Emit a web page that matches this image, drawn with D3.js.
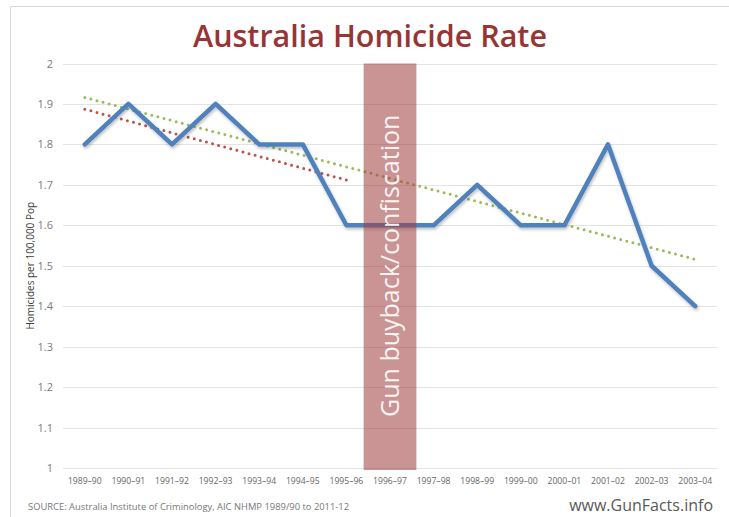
<!DOCTYPE html>
<html><head><meta charset="utf-8">
<script src="https://cdn.jsdelivr.net/npm/d3@7"></script>
<style>body{margin:0;background:#fff}svg{display:block}</style>
</head><body><div id="chart"></div>
<script>
const categories = ["1989–90","1990–91","1991–92","1992–93","1993–94","1994–95","1995–96","1996–97","1997–98","1998–99","1999–00","2000–01","2001–02","2002–03","2003–04"];
const rates = [1.8,1.9,1.8,1.9,1.8,1.8,1.6,1.6,1.6,1.7,1.6,1.6,1.8,1.5,1.4];
const trendAllCats = ["1989–90","2003–04"];
const trendAllVals = [1.916,1.516];
const trendPreCats = ["1989–90","1995–96"];
const trendPreVals = [1.887,1.712];
const yTicks = [1,1.1,1.2,1.3,1.4,1.5,1.6,1.7,1.8,1.9,2];
const bandCategory = "1996–97";
const bandLabel = "Gun buyback/confiscation";
const title = "Australia Homicide Rate";
const yTitle = "Homicides per 100,000 Pop";
const source = "SOURCE: Australia Institute of Criminology, AIC NHMP 1989/90 to 2011-12";
const watermark = "www.GunFacts.info";

const W = 729, H = 517;
const svg = d3.select("#chart").append("svg").attr("width", W).attr("height", H);
const font = "'Open Sans', 'Liberation Sans', sans-serif";

// frame
svg.append("path").attr("d", `M10.5,${H} V6.5 H${W}`).attr("fill","none").attr("stroke","#d9d9d9").attr("stroke-width",1);

const x = d3.scaleBand().domain(categories).range([63, 717]);
const y = d3.scaleLinear().domain([1, 2]).range([468, 63.5]);
const cx = c => x(c) + x.bandwidth() / 2;

// gridlines
svg.append("g").selectAll("line").data(yTicks).join("line")
  .attr("x1", 63).attr("x2", 717)
  .attr("y1", d => Math.round(y(d)) + 0.5).attr("y2", d => Math.round(y(d)) + 0.5)
  .attr("stroke", "#e3e3e3").attr("stroke-width", 1);

// y axis labels
const yAxis = d3.axisLeft(y).tickValues(yTicks).tickSize(0).tickPadding(0).tickFormat(d3.format("~g"));
const gy = svg.append("g").attr("transform", "translate(53,0)").call(yAxis);
gy.select(".domain").remove();
gy.selectAll("text").attr("font-family", font).attr("font-size", 11).attr("fill", "#7a7a7a");

// x axis labels
const xAxis = d3.axisBottom(x).tickSize(0).tickPadding(0);
const gx = svg.append("g").attr("transform", "translate(0,478)").call(xAxis);
gx.select(".domain").remove();
gx.selectAll("text").attr("font-family", font).attr("font-size", 8.6).attr("fill", "#666").attr("dy", "0.71em");

// trend lines
const lineGen = d3.line().x(d => cx(d[0])).y(d => y(d[1]));
svg.append("path").datum(trendPreCats.map((c,i)=>[c,trendPreVals[i]]))
  .attr("d", lineGen).attr("fill","none").attr("stroke","#c0504d")
  .attr("stroke-width",3).attr("stroke-linecap","round").attr("stroke-dasharray","0 6.3");
svg.append("path").datum(trendAllCats.map((c,i)=>[c,trendAllVals[i]]))
  .attr("d", lineGen).attr("fill","none").attr("stroke","#9bbb59")
  .attr("stroke-width",3).attr("stroke-linecap","round").attr("stroke-dasharray","0 6.3");

// main line with shadow
const defs = svg.append("defs");
const f = defs.append("filter").attr("id","sh").attr("x","-10%").attr("y","-10%").attr("width","120%").attr("height","130%");
f.append("feDropShadow").attr("dx",1).attr("dy",2).attr("stdDeviation",1.5).attr("flood-color","#000").attr("flood-opacity",0.25);
svg.append("path").datum(categories.map((c,i)=>[c,rates[i]]))
  .attr("d", lineGen).attr("fill","none").attr("stroke","#4f81bd")
  .attr("stroke-width",4.5).attr("stroke-linejoin","round").attr("stroke-linecap","round")
  .attr("filter","url(#sh)");

// band
const bw = x.bandwidth() * 1.21;
const bx = cx(bandCategory);
svg.append("rect").attr("x", bx - bw/2).attr("y", y(2)).attr("width", bw).attr("height", y(1) - y(2) + 2)
  .attr("fill", "#a03c3c").attr("fill-opacity", 0.55);
svg.append("text").attr("transform", `translate(${bx + 9},${(y(2)+y(1))/2}) rotate(-90)`)
  .attr("text-anchor","middle").attr("font-family", font).attr("font-size", 25)
  .attr("fill", "#fff").attr("fill-opacity", 0.92).text(bandLabel);

// title
svg.append("text").attr("x", 370).attr("y", 47).attr("text-anchor","middle")
  .attr("font-family", font).attr("font-weight", 600).attr("font-size", 30.5)
  .attr("fill", "#983434").text(title);

// y title
svg.append("text").attr("transform", `translate(34,${(y(2)+y(1))/2}) rotate(-90)`)
  .attr("text-anchor","middle").attr("font-family", font).attr("font-size", 10)
  .attr("fill", "#404040").text(yTitle);

// source
svg.append("text").attr("x", 28).attr("y", 510).attr("font-family", font).attr("font-size", 9.4)
  .attr("fill", "#777").text(source);
svg.append("text").attr("x", 713).attr("y", 511).attr("text-anchor","end").attr("font-family", font)
  .attr("font-size", 16).attr("fill", "#595959").text(watermark);
</script></body></html>
